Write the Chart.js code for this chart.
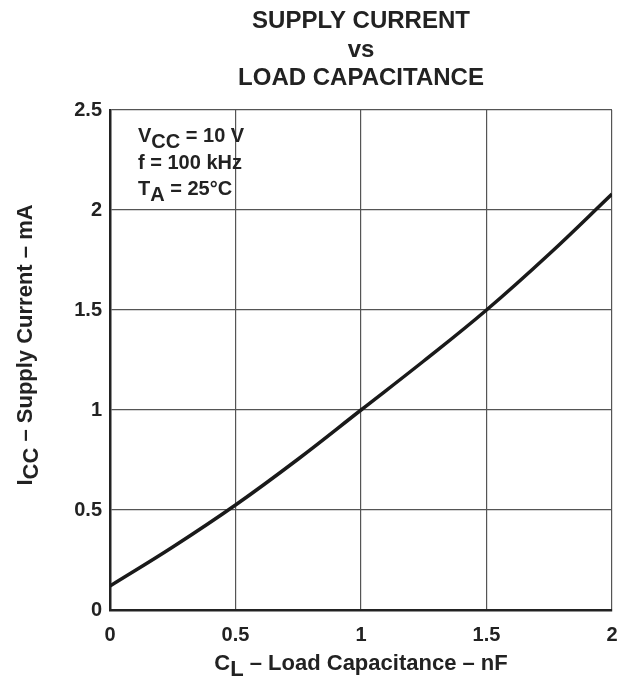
<!DOCTYPE html>
<html>
<head>
<meta charset="utf-8">
<script src="https://cdn.jsdelivr.net/npm/chart.js@4"></script>
<style>
  html, body { margin: 0; padding: 0; background: #fff; }
  #wrap { width: 627px; height: 679px; }
</style>
</head>
<body>
<div id="wrap"><canvas id="grafica" width="627" height="679"></canvas></div>
<script>
const $grafica = document.querySelector("#grafica");
// capacitancia de carga (nF) y corriente de alimentación (mA)
const cargaNF = [0, 0.25, 0.5, 0.75, 1, 1.25, 1.5, 1.75, 2];
const corrienteMA = [0.12, 0.315, 0.525, 0.755, 1.0, 1.245, 1.5, 1.78, 2.08];
const ticksX = [0, 0.5, 1, 1.5, 2];
const ticksY = [0, 0.5, 1, 1.5, 2, 2.5];
const titulo = ["SUPPLY CURRENT", "vs", "LOAD CAPACITANCE"];
const condiciones = [["V", "CC", " = 10 V"], ["f = 100 kHz", "", ""], ["T", "A", " = 25\u00B0C"]];

const fuente = '"Liberation Sans", Arial, sans-serif';

// escribe texto con subíndice: base, sub, resto
function conSub(ctx, x, y, partes, size) {
    ctx.font = "bold " + size + "px " + fuente;
    ctx.fillText(partes[0], x, y);
    x += ctx.measureText(partes[0]).width;
    if (partes[1]) {
        ctx.fillText(partes[1], x, y + 6);
        x += ctx.measureText(partes[1]).width;
    }
    ctx.fillText(partes[2], x, y);
    return x + ctx.measureText(partes[2]).width;
}
function anchoSub(ctx, partes, size) {
    ctx.font = "bold " + size + "px " + fuente;
    return ctx.measureText(partes[0] + partes[1] + partes[2]).width;
}

const textos = {
    id: "textos",
    afterDraw(chart) {
        const ctx = chart.ctx;
        const a = chart.chartArea;
        const cx = (a.left + a.right) / 2;
        ctx.save();
        ctx.fillStyle = "#222";
        ctx.textBaseline = "alphabetic";
        // título
        ctx.font = "bold 24px " + fuente;
        ctx.textAlign = "center";
        titulo.forEach((t, i) => ctx.fillText(t, cx, 28 + i * 28.5));
        ctx.textAlign = "left";
        // condiciones
        condiciones.forEach((c, i) => conSub(ctx, a.left + 28, a.top + 32 + i * 26.5, c, 20));
        // título eje x
        const px = ["C", "L", " \u2013 Load Capacitance \u2013 nF"];
        const wx = anchoSub(ctx, px, 22);
        conSub(ctx, cx - wx / 2, 670, px, 22);
        // título eje y
        const py = ["I", "CC", " \u2013 Supply Current \u2013 mA"];
        const wy = anchoSub(ctx, py, 22);
        ctx.translate(32, 345);
        ctx.rotate(-Math.PI / 2);
        conSub(ctx, -wy / 2, 0, py, 22);
        ctx.restore();
    }
};

new Chart($grafica, {
    type: "line",
    data: {
        datasets: [{
            data: cargaNF.map((x, i) => ({ x: x, y: corrienteMA[i] })),
            borderColor: "#1a1a1a",
            borderWidth: 3.5,
            pointRadius: 0,
            tension: 0.4,
            fill: false
        }]
    },
    options: {
        responsive: false,
        animation: false,
        layout: { padding: { top: 110, right: 15, left: 0, bottom: 0 } },
        plugins: { legend: { display: false }, tooltip: { enabled: false } },
        scales: {
            x: {
                type: "linear",
                min: 0, max: 2,
                afterBuildTicks: s => { s.ticks = ticksX.map(v => ({ value: v })); },
                afterFit: s => { s.height = 69; s.paddingRight = 0; s.paddingLeft = 0; },
                grid: { color: "#555", lineWidth: 1.2, drawTicks: false },
                border: { color: "#222", width: 2.5 },
                ticks: {
                    color: "#222", padding: 13,
                    font: { family: fuente, size: 20, weight: "bold" },
                    callback: v => String(v)
                }
            },
            y: {
                min: 0, max: 2.5,
                afterBuildTicks: s => { s.ticks = ticksY.map(v => ({ value: v })); },
                afterFit: s => { s.width = 110; s.paddingTop = 0; s.paddingBottom = 0; },
                grid: { color: "#555", lineWidth: 1.2, drawTicks: false },
                border: { color: "#222", width: 2.5 },
                ticks: {
                    color: "#222", padding: 8,
                    font: { family: fuente, size: 20, weight: "bold" },
                    callback: v => String(v)
                }
            }
        }
    },
    plugins: [textos]
});
</script>
</body>
</html>
